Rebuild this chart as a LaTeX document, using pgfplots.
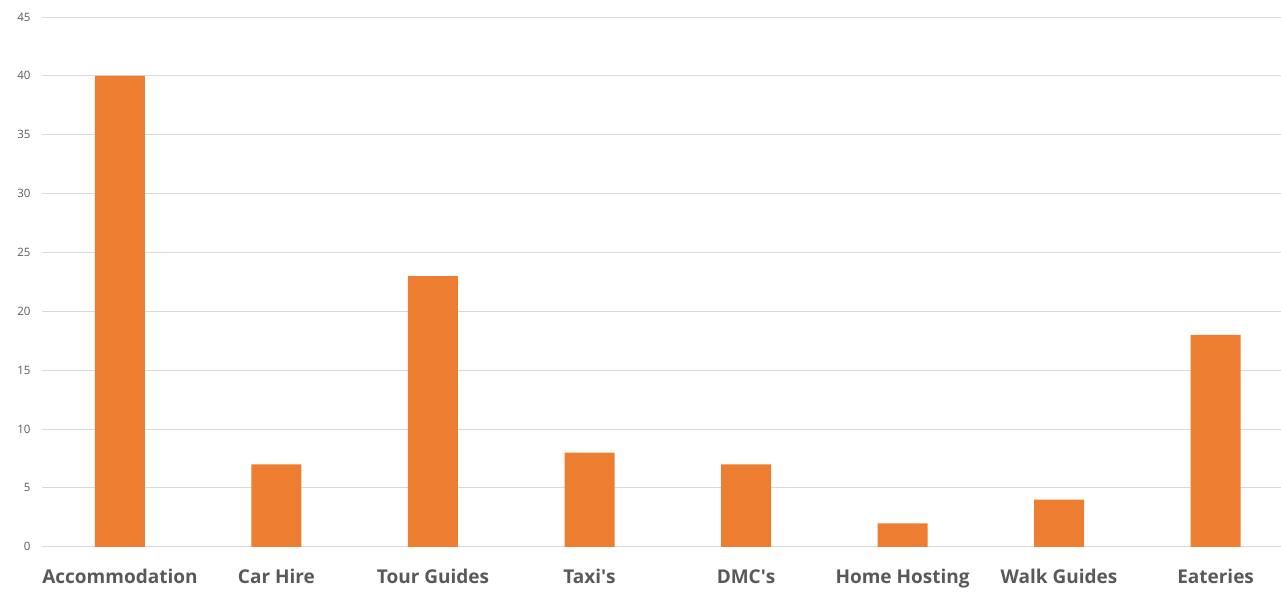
\documentclass[border=0pt]{standalone}
\usepackage{pgfplots}
\pgfplotsset{compat=1.18}
\usepackage{fontspec}
\setmainfont{Open Sans}
\definecolor{barorange}{HTML}{ED7D31}
\definecolor{gridgray}{HTML}{D9D9D9}
\definecolor{txtgray}{HTML}{595959}
\begin{document}
\begin{tikzpicture}
\begin{axis}[
  scale only axis,
  width=1239bp, height=530bp,
  xmin=-0.498, xmax=7.415,
  ymin=0, ymax=45,
  ytick={0,5,...,45},
  xtick={0,...,7},
  xticklabels={Accommodation,Car Hire,Tour Guides,Taxi\textquotesingle s,DMC\textquotesingle s,Home Hosting,Walk Guides,Eateries},
  axis line style={draw=none},
  major tick length=0pt,
  ymajorgrids, grid style={gridgray, line width=0.9bp},
  /pgf/number format/assume math mode=true,
  yticklabel style={font=\fontsize{11.5bp}{13bp}\selectfont, text=txtgray, xshift=-8bp},
  xticklabel style={font=\fontsize{19bp}{21bp}\selectfont\bfseries, text=txtgray, yshift=-19bp},
]
\addplot[ybar, bar width=50bp, fill=barorange, draw=none] coordinates {
(0,40) (1,7) (2,23) (3,8) (4,7) (5,2) (6,4) (7,18)};
\end{axis}
\path (current axis.south west) ++(-42bp,-44bp) coordinate (bl);
\path (current axis.north east) ++(0,17bp) coordinate (tr);
\path (bl) rectangle (tr);
\end{tikzpicture}
\end{document}
